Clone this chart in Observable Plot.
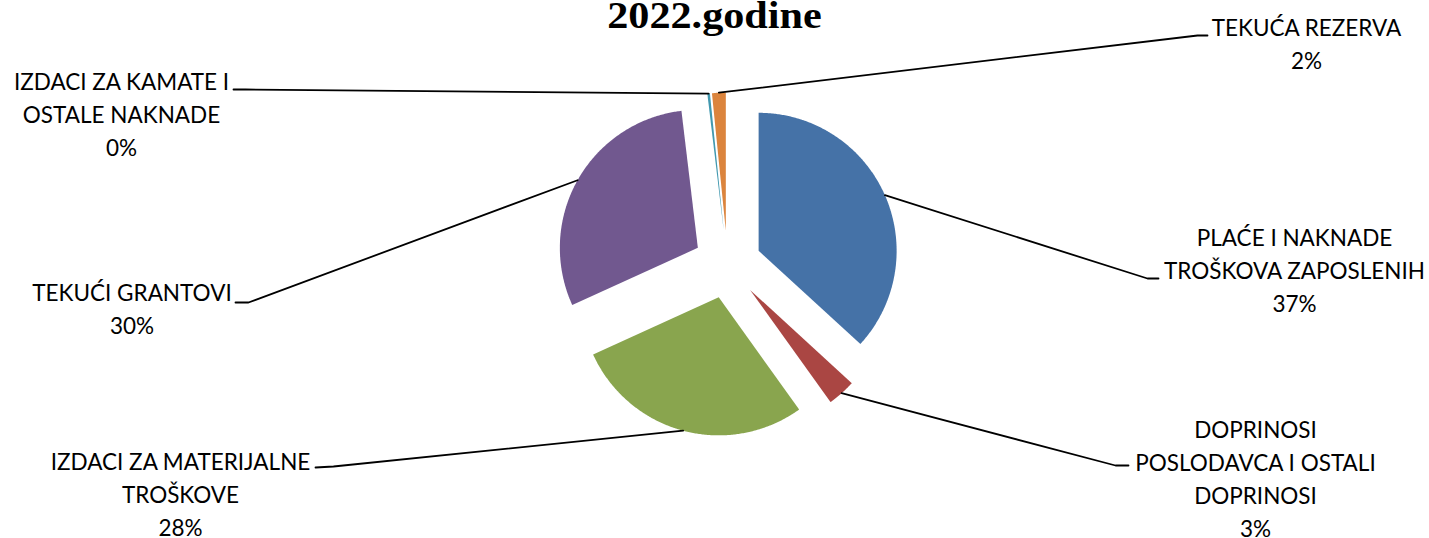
<!DOCTYPE html>
<html><head><meta charset="utf-8">
<script src="https://cdn.jsdelivr.net/npm/d3@7"></script>
<script src="https://cdn.jsdelivr.net/npm/@observablehq/plot@0.6"></script>
<style>
body{margin:0;background:#fff;}
#wrap{position:relative;width:1429px;height:538px;overflow:hidden;}
#title{position:absolute;left:0;top:0;width:1429px;text-align:center;font:bold 38px 'Liberation Serif','Times New Roman',serif;line-height:30px;transform:scaleX(1.11);color:#000;z-index:2;}
#wrap svg{position:absolute;left:0;top:0;}
</style></head><body>
<div id="wrap"><div id="title">2022.godine</div></div>
<script>
// ---- data ----
const categories = [
  "PLAĆE I NAKNADE\nTROŠKOVA ZAPOSLENIH",
  "DOPRINOSI\nPOSLODAVCA I OSTALI\nDOPRINOSI",
  "IZDACI ZA MATERIJALNE\nTROŠKOVE",
  "TEKUĆI GRANTOVI",
  "IZDACI ZA KAMATE I\nOSTALE NAKNADE",
  "TEKUĆA REZERVA"
];
const shares = [36.8, 3.3, 28.1, 29.9, 0.3, 1.6];

// ---- styles / layout ----
const colors = ["#4572A7", "#AA4643", "#89A54E", "#71588F", "#4198AF", "#DB843D"];
const W = 1429, H = 538;
const center = [727, 264], R = 138, explode = 34;
const labelX = [1294, 1255, 180, 131.5, 121, 1306];
const labelY = [245, 437, 469.5, 300, 89, 35];
const lineGap = 33.2;
const leaderElbow = [[1147, 278], [1115, 465], [333, 466], [248, 302], [245, 89], [1197, 35]];
const leaderEnd = [[1158, 278], [1128, 465], [315, 467], [235, 302], [233, 89], [1207, 35]];

// ---- geometry from values ----
const total = d3.sum(shares);
let acc = 0;
const slices = shares.map((v, i) => {
  const a0 = acc / total * 2 * Math.PI; acc += v;
  const a1 = acc / total * 2 * Math.PI;
  return {i, cat: categories[i], v, a0, a1, mid: (a0 + a1) / 2};
});
const poly = [], leaders = [], lines = [];
for (const s of slices) {
  const ox = center[0] + explode * Math.sin(s.mid), oy = center[1] - explode * Math.cos(s.mid);
  poly.push({cat: s.cat, x: ox, y: oy});
  const n = Math.max(2, Math.ceil((s.a1 - s.a0) / (Math.PI / 360)));
  for (let k = 0; k <= n; k++) {
    const a = s.a0 + (s.a1 - s.a0) * k / n;
    poly.push({cat: s.cat, x: ox + R * Math.sin(a), y: oy - R * Math.cos(a)});
  }
  poly.push({cat: s.cat, x: ox, y: oy});
  leaders.push({i: s.i, x: ox + R * Math.sin(s.mid), y: oy - R * Math.cos(s.mid)});
  leaders.push({i: s.i, x: leaderElbow[s.i][0], y: leaderElbow[s.i][1]});
  leaders.push({i: s.i, x: leaderEnd[s.i][0], y: leaderEnd[s.i][1]});
  const txt = (s.cat + "\n" + Math.round(s.v) + "%").split("\n");
  txt.forEach((t, j) => lines.push({x: labelX[s.i], y: labelY[s.i] + j * lineGap, text: t}));
}

const chart = Plot.plot({
  width: W, height: H, margin: 0,
  style: {background: "white"},
  x: {domain: [0, W], range: [0, W], axis: null},
  y: {domain: [0, H], range: [0, H], axis: null},
  color: {domain: categories, range: colors},
  marks: [
    Plot.line(poly, {x: "x", y: "y", z: "cat", fill: "cat", stroke: "none"}),
    Plot.line(leaders, {x: "x", y: "y", z: "i", stroke: "black", strokeWidth: 1.8}),
    Plot.text(lines, {x: "x", y: "y", text: "text", textAnchor: "middle", lineAnchor: "bottom",
      fontSize: 22.5, fontFamily: "Lato, 'Open Sans', sans-serif", fill: "black"})
  ]
});
document.getElementById("wrap").appendChild(chart);
</script>
</body></html>
